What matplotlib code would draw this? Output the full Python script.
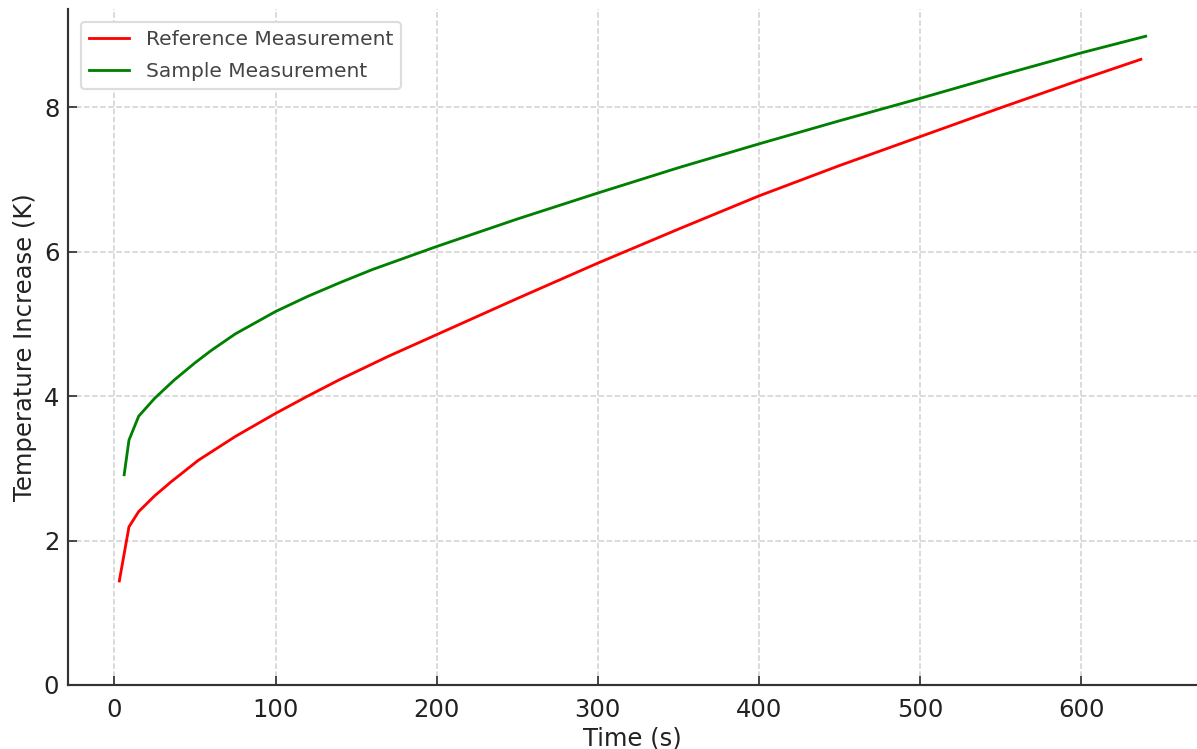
"""
Temperature increase over time: reference vs sample measurement
"""

import matplotlib
matplotlib.use("Agg")
import matplotlib.pyplot as plt

# Values
ref_time = [3, 9, 15, 25, 35, 52, 75, 100, 120, 140, 170, 200, 250, 300,
            350, 400, 450, 500, 550, 600, 637]
ref_temp = [1.44, 2.19, 2.40, 2.62, 2.81, 3.11, 3.44, 3.76, 4.00, 4.23, 4.55,
            4.85, 5.35, 5.84, 6.31, 6.77, 7.19, 7.59, 7.99, 8.38, 8.66]

sample_time = [6, 9, 15, 25, 37, 50, 60, 75, 100, 120, 140, 160, 180, 200,
               250, 300, 350, 400, 450, 500, 550, 600, 640]
sample_temp = [2.91, 3.39, 3.72, 3.97, 4.22, 4.46, 4.63, 4.86, 5.17, 5.38,
               5.57, 5.75, 5.91, 6.07, 6.45, 6.81, 7.16, 7.49, 7.81, 8.12,
               8.44, 8.75, 8.98]

DPI = 156
fig = plt.figure(figsize=(1197 / DPI, 749 / DPI), dpi=DPI)
ax = fig.add_axes([68 / 1197, 64 / 749, 1 - 68 / 1197, (685 - 9) / 749])

ax.plot(ref_time, ref_temp, color='red', linewidth=1.3, label='Reference Measurement')
ax.plot(sample_time, sample_temp, color='green', linewidth=1.3, label='Sample Measurement')

ax.set_ylim(bottom=0)
ax.set_xlabel('Time (s)', fontsize=11.2, color='#222222', labelpad=2)
ax.set_ylabel('Temperature Increase (K)', fontsize=11.2, color='#222222', labelpad=3)

ax.tick_params(axis='both', direction='in', length=4, width=0.8,
               labelsize=11.2, labelcolor='#222222', color='#333333')
ax.tick_params(axis='x', pad=6)
ax.tick_params(axis='y', pad=4)

ax.grid(True, linestyle='--', color='#d0d0d0', linewidth=0.7)
ax.set_axisbelow(True)

for side in ['top', 'right']:
    ax.spines[side].set_visible(False)
for side in ['left', 'bottom']:
    ax.spines[side].set_color('#333333')
    ax.spines[side].set_linewidth(1.0)

leg = ax.legend(loc='upper left', fontsize=9.3, frameon=True, framealpha=1.0,
                edgecolor='#dddddd', borderaxespad=0.65, labelspacing=0.62)
for txt in leg.get_texts():
    txt.set_color('#444444')

fig.savefig('out.png', dpi=DPI)
